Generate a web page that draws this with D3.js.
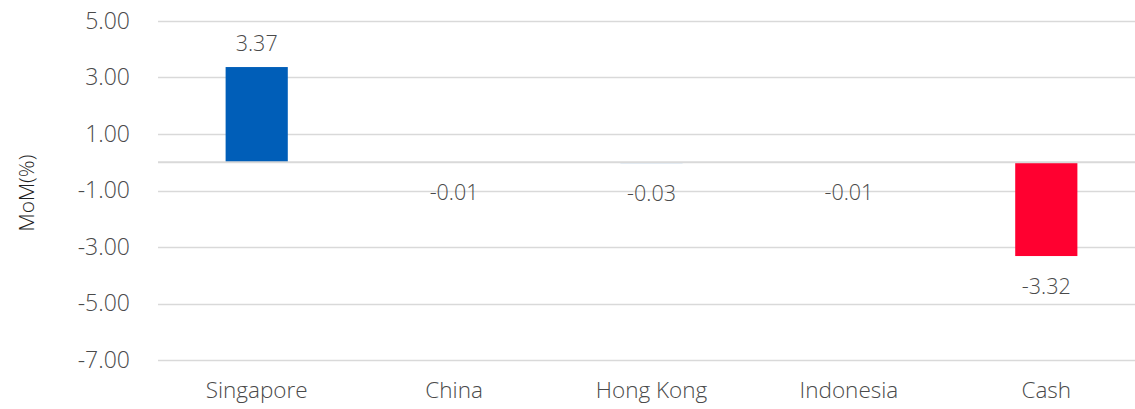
<!DOCTYPE html>
<html>
<head>
<meta charset="utf-8">
<script src="https://cdn.jsdelivr.net/npm/d3@7"></script>
<style>
  html, body { margin: 0; padding: 0; background: #fff; }
  svg { display: block; }
  text { font-family: "Open Sans", "Noto Sans", sans-serif; font-weight: 300; fill: #4a4a4a; }
</style>
</head>
<body>
<svg id="chart" width="1135" height="409"></svg>
<script>
'use strict';

const categories = ["Singapore", "China", "Hong Kong", "Indonesia", "Cash"];
const momValues = [3.37, -0.01, -0.03, -0.01, -3.32];
const barColors = ["#005eb8", "#005eb8", "#005eb8", "#005eb8", "#ff0030"];
const yTicks = [5, 3, 1, -1, -3, -5, -7];

let svg = d3.select("#chart"),
  margin = { top: 21, right: -10, bottom: 49, left: 158 },
  width = +svg.attr("width") - margin.left - margin.right,
  height = +svg.attr("height") - margin.top - margin.bottom,
  g = svg.append("g").attr("transform", "translate(" + margin.left + "," + margin.top + ")");

let x = d3.scaleBand()
  .domain(categories)
  .range([0, width])
  .padding(0);

let y = d3.scaleLinear()
  .domain([-7, 5])
  .range([height, 0]);

// gridlines
g.append("g")
  .selectAll("line")
  .data(yTicks)
  .enter().append("line")
  .attr("x1", 0)
  .attr("x2", width)
  .attr("y1", d => Math.round(y(d)) + 0.5)
  .attr("y2", d => Math.round(y(d)) + 0.5)
  .attr("stroke", "#d9d9d9")
  .attr("stroke-width", 1.5);

// y axis labels
let fmt = d => d.toFixed(2);
let yAxis = g.append("g")
  .attr("transform", "translate(-25,0)")
  .call(d3.axisLeft(y).tickValues(yTicks).tickFormat(fmt).tickSize(0));
yAxis.select(".domain").remove();
yAxis.selectAll("text")
  .attr("font-size", 23)
  .attr("fill", "#4a4a4a")
  .style("font-family", "'Open Sans', sans-serif")
  .style("font-weight", 300);

// x axis labels
let xAxis = g.append("g")
  .attr("transform", "translate(0," + height + ")")
  .call(d3.axisBottom(x).tickSize(0).tickPadding(22));
xAxis.select(".domain").remove();
xAxis.selectAll("text")
  .attr("font-size", 22.5)
  .attr("fill", "#4a4a4a")
  .style("font-family", "'Open Sans', sans-serif")
  .style("font-weight", 300);

let barW = x.bandwidth() * 0.315;

g.selectAll(".bar")
  .data(momValues)
  .enter().append("rect")
  .attr("class", "bar")
  .attr("x", (d, i) => x(categories[i]) + (x.bandwidth() - barW) / 2)
  .attr("y", d => y(Math.max(0, d)))
  .attr("width", barW)
  .attr("height", d => Math.abs(y(d) - y(0)))
  .attr("fill", (d, i) => barColors[i]);

// zero line over bars
g.append("line")
  .attr("x1", 0)
  .attr("x2", width)
  .attr("y1", y(0))
  .attr("y2", y(0))
  .attr("stroke", "#d9d9d9")
  .attr("stroke-width", 2);

g.selectAll(".val")
  .data(momValues)
  .enter().append("text")
  .attr("class", "val")
  .attr("x", (d, i) => x(categories[i]) + x.bandwidth() / 2)
  .attr("y", d => d >= 0 ? y(d) - 24 : y(d) + 30)
  .attr("dy", "0.35em")
  .attr("text-anchor", "middle")
  .attr("font-size", 21.5)
  .text(fmt);

// y title
svg.append("text")
  .attr("transform", "translate(34,193) rotate(-90)")
  .attr("text-anchor", "middle")
  .attr("font-size", 21)
  .style("fill", "#1e1e1e")
  .text("MoM(%)");
</script>
</body>
</html>
